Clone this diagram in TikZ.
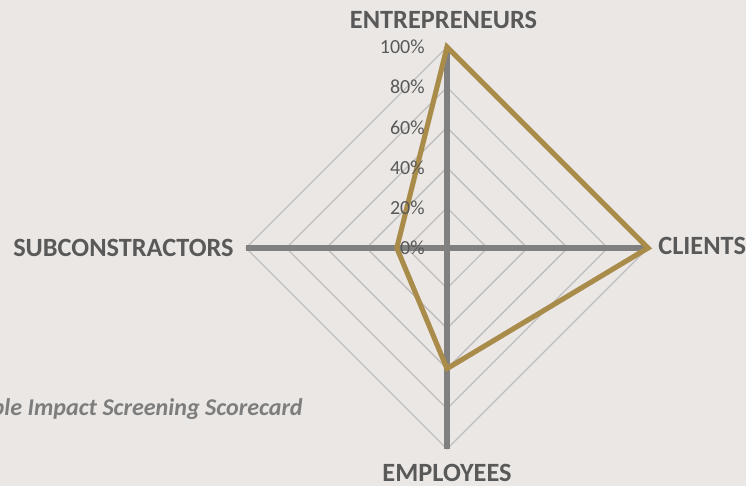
\documentclass[tikz,border=0pt]{standalone}
\usepackage{fontspec}
\setmainfont{Carlito}
\usetikzlibrary{positioning}
\definecolor{bgpaper}{RGB}{235,231,228}
\definecolor{axisgray}{RGB}{128,128,128}
\definecolor{gridgray}{RGB}{191,191,191}
\definecolor{labelgray}{RGB}{89,89,89}
\definecolor{titlegray}{RGB}{125,125,125}
\definecolor{scoregold}{RGB}{169,139,74}
\tikzset{
  gridline/.style={draw=gridgray, line width=0.75pt},
  axisline/.style={draw=axisgray, line width=2.9pt},
  scoreline/.style={draw=scoregold, line width=2.9pt, line join=miter},
  ticklabel/.style={font=\fontsize{11.4}{13}\selectfont, text=labelgray, anchor=east, inner sep=0pt},
  catlabel/.style={font=\fontsize{15}{17}\selectfont\bfseries, text=labelgray, inner sep=0pt},
  cardtitle/.style={font=\fontsize{13.7}{16}\selectfont\bfseries\itshape, text=titlegray, inner sep=0pt, anchor=base east}
}

\begin{document}
\begin{tikzpicture}[x=0.02cm, y=-0.02cm]
	\fill[bgpaper] (0,0) rectangle (746,486);
	\useasboundingbox (0,0) rectangle (746,486);
	\clip (0,0) rectangle (746,486);

	% axis ends
	\coordinate (centre) at (447,248);
	\coordinate (entreEnd) at (447,47);
	\coordinate (cliEnd) at (648,248);
	\coordinate (empEnd) at (447,449);
	\coordinate (subEnd) at (246,248);

	% grid rings, 20% apart
	\begin{scope}[shift={(centre)}]
		\foreach \k in {1,...,5}
			\draw[gridline] (0,-40.2*\k) -- (40.2*\k,0) -- (0,40.2*\k) -- (-40.2*\k,0) -- cycle;
	\end{scope}

	\draw[axisline] (entreEnd) -- (empEnd);
	\draw[axisline] (subEnd) -- (cliEnd);

	% scores
	\coordinate (entreScore) at (447,47);
	\coordinate (cliScore) at (648,248);
	\coordinate (empScore) at (447,368.6);
	\coordinate (subScore) at (396.8,248);
	\draw[scoreline] (entreScore) -- (cliScore) -- (empScore) -- (subScore) -- cycle;

	% percent ticks
	\foreach \k/\pct in {0/0,1/20,2/40,3/60,4/80,5/100}
		\node[ticklabel] (tick\pct) at (425,248-40.2*\k) {\pct\%};

	\node[catlabel] (entrepreneurs) at (443.5,20) {ENTREPRENEURS};
	\node[catlabel, anchor=west] (clients) at (658,246) {CLIENTS};
	\node[catlabel] (employees) at (447,473) {EMPLOYEES};
	\node[catlabel, anchor=east] (subcontractors) at (234,248) {SUBCONSTRACTORS};

	\node[cardtitle] (scorecard) at (303,415) {Triple Impact Screening Scorecard};
\end{tikzpicture}
\end{document}
